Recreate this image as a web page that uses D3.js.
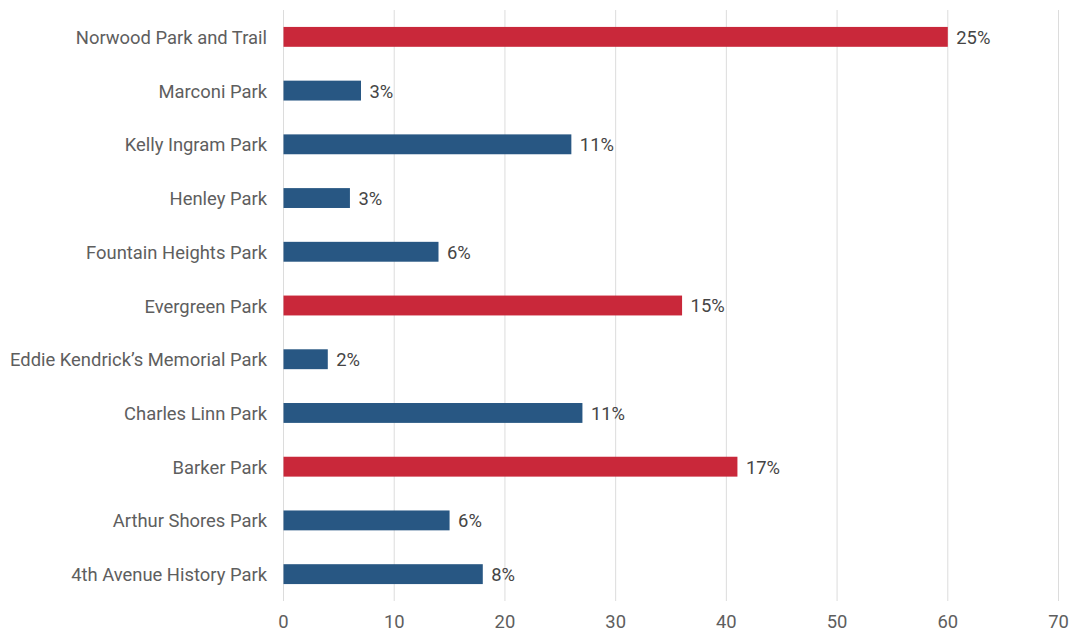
<!DOCTYPE html>
<html>
<head>
<meta charset="utf-8">
<script src="https://cdn.jsdelivr.net/npm/d3@7"></script>
<style>
  html, body { margin: 0; padding: 0; background: #fff; }
  svg { display: block; font-family: Roboto, "Noto Sans", sans-serif; }
</style>
</head>
<body>
<svg id="chart" width="1070" height="631"></svg>
<script>
// Parks, top to bottom
const parks = [
  "Norwood Park and Trail",
  "Marconi Park",
  "Kelly Ingram Park",
  "Henley Park",
  "Fountain Heights Park",
  "Evergreen Park",
  "Eddie Kendrick\u2019s Memorial Park",
  "Charles Linn Park",
  "Barker Park",
  "Arthur Shores Park",
  "4th Avenue History Park"
];
const counts = [60, 7, 26, 6, 14, 36, 4, 27, 41, 15, 18];
const shares = ["25%", "3%", "11%", "3%", "6%", "15%", "2%", "11%", "17%", "6%", "8%"];
const highlighted = [true, false, false, false, false, true, false, false, true, false, false];
const xTicks = [0, 10, 20, 30, 40, 50, 60, 70];

const svg = d3.select("#chart");
const margin = { left: 283, right: 12, top: 10, bottom: 30 };
const W = 1070, H = 631;
const fontSize = 18.4;

const x = d3.scaleLinear().domain([0, 70]).range([margin.left, W - margin.right]);
const y = d3.scaleBand().domain(parks).range([margin.top, H - margin.bottom]).paddingInner(0.63).paddingOuter(0.315);

// vertical gridlines
svg.append("g").selectAll("line").data(xTicks).join("line")
  .attr("x1", d => x(d) + 0.5).attr("x2", d => x(d) + 0.5)
  .attr("y1", margin.top).attr("y2", H - margin.bottom)
  .attr("stroke", "#dcdcdc").attr("stroke-width", 1);

// x axis labels
const xAxis = d3.axisBottom(x).tickValues(xTicks).tickSize(0).tickPadding(14);
const gx = svg.append("g").attr("transform", `translate(0,${H - margin.bottom})`).call(xAxis);
gx.select(".domain").remove();
gx.selectAll("text").attr("font-size", fontSize).attr("fill", "#5e5e5e").style("font-family", "Roboto, sans-serif");

// y axis labels
const yAxis = d3.axisLeft(y).tickSize(0).tickPadding(16);
const gy = svg.append("g").attr("transform", `translate(${margin.left},0)`).call(yAxis);
gy.select(".domain").remove();
gy.selectAll("text").attr("font-size", fontSize).attr("fill", "#5e5e5e").attr("dy", "0.38em")
  .style("font-family", "Roboto, sans-serif");

// bars
svg.append("g").selectAll("rect").data(parks).join("rect")
  .attr("x", x(0) + 0.5)
  .attr("y", d => y(d))
  .attr("width", (d, i) => x(counts[i]) - x(0))
  .attr("height", y.bandwidth())
  .attr("fill", (d, i) => highlighted[i] ? "#c9283a" : "#285783");

// value labels
svg.append("g").selectAll("text").data(parks).join("text")
  .attr("x", (d, i) => x(counts[i]) + 9)
  .attr("y", d => y(d) + y.bandwidth() / 2)
  .attr("dy", "0.38em")
  .attr("font-size", fontSize)
  .attr("fill", "#454545")
  .text((d, i) => shares[i]);
</script>
</body>
</html>
